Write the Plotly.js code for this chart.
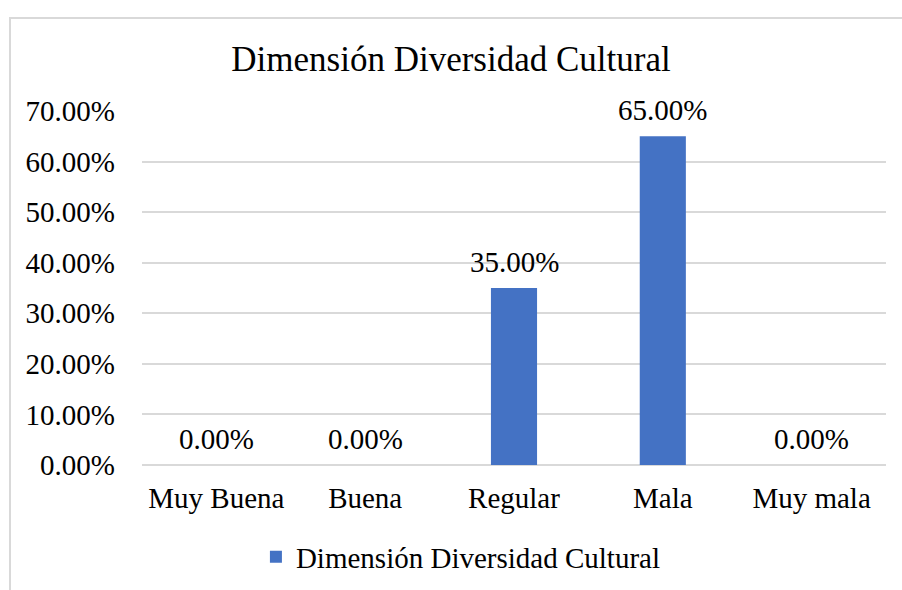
<!DOCTYPE html>
<html>
<head>
<meta charset="utf-8">
<script src="https://cdn.plot.ly/plotly-3.0.1.min.js"></script>
<style>
html,body{margin:0;padding:0;background:#fff;}
#frame{position:absolute;left:9px;top:17px;width:1000px;height:700px;border:2px solid #d9d9d9;box-sizing:border-box;pointer-events:none;z-index:2;}
#chart{position:absolute;left:0;top:0;width:902px;height:590px;}
</style>
</head>
<body>
<div id="chart"></div>
<div id="frame"></div>
<script>
const categories = ["Muy Buena", "Buena", "Regular", "Mala", "Muy mala"];
const values = [0.00, 0.00, 0.35, 0.65, 0.00];
const seriesName = "Dimensión Diversidad Cultural";
const chartTitle = "Dimensión Diversidad Cultural";
const tickVals = [0, 0.1, 0.2, 0.3, 0.4, 0.5, 0.6, 0.7];

const serif = "Liberation Serif";

const labels = categories.map((c, i) => ({
  x: c, y: values[i], xref: 'x', yref: 'y',
  text: (values[i] * 100).toFixed(2) + '%',
  showarrow: false, yanchor: 'bottom', yshift: 8,
  font: {family: serif, size: 29, color: '#000'}
}));

Plotly.newPlot('chart', [{
  type: 'bar',
  x: categories,
  y: values,
  name: seriesName,
  marker: {color: '#4472C4'},
  showlegend: true
}], {
  width: 902, height: 590,
  margin: {l: 142, r: 16, t: 111, b: 125},
  paper_bgcolor: '#fff', plot_bgcolor: '#fff',
  font: {family: serif, size: 29, color: '#000'},
  title: {text: chartTitle, font: {family: serif, size: 35, color: '#000'}, x: 0.5, xanchor: 'center', y: 0.9, yanchor: 'middle'},
  bargap: 0.69,
  annotations: labels,
  xaxis: {showgrid: false, showline: false, ticks: '', ticklabelstandoff: 13, tickfont: {family: serif, size: 29, color: '#000'}, automargin: false},
  yaxis: {range: [0, 0.7], tickvals: tickVals, tickformat: '.2%', gridcolor: '#d9d9d9', gridwidth: 2, zeroline: true, zerolinecolor: '#d9d9d9', zerolinewidth: 2, showline: false, ticks: '', ticklabelstandoff: 26, tickfont: {family: serif, size: 29, color: '#000'}, automargin: false},
  legend: {orientation: 'h', x: 0.511, xanchor: 'center', xref: 'container', y: 0.056, yanchor: 'middle', yref: 'container', itemwidth: 30, font: {family: serif, size: 29, color: '#000'}},
  showlegend: true
}, {displayModeBar: false, staticPlot: true});
</script>
</body>
</html>
